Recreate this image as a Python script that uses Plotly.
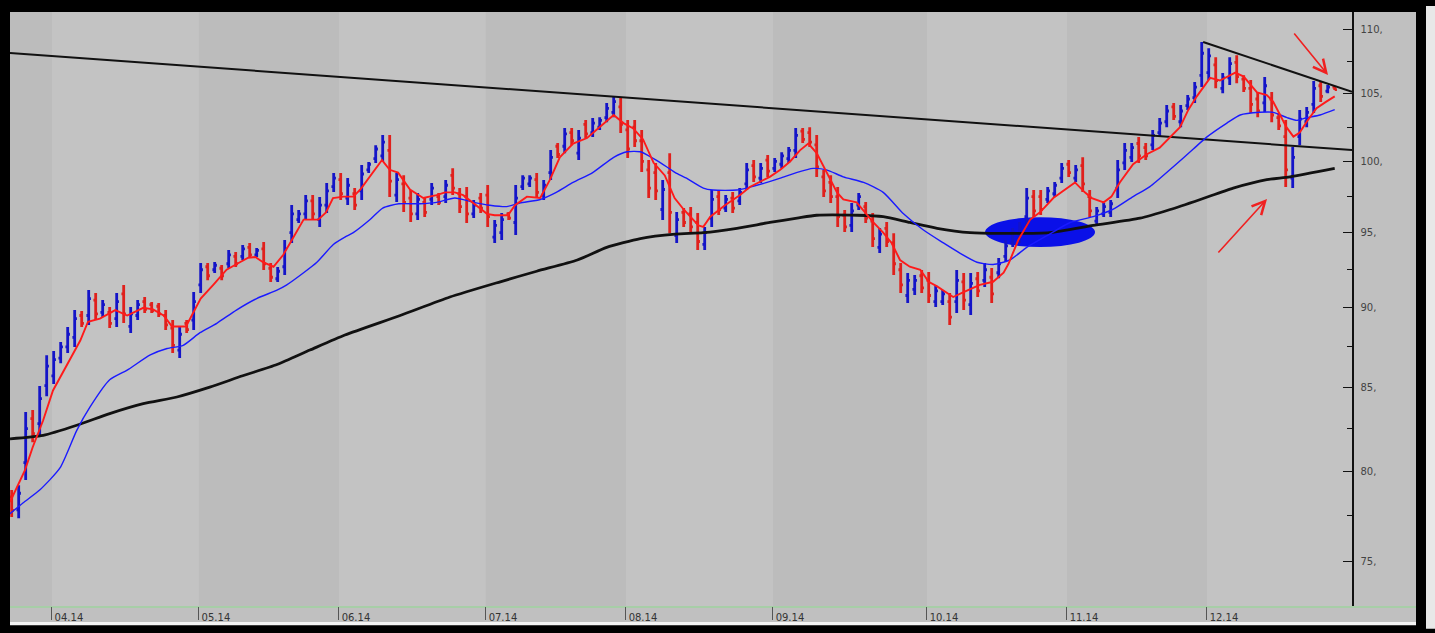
import math
import plotly.graph_objects as go

# ---------------- data ----------------
bar_high = [78.93, 79.21, 83.49, 83.61, 85.07, 86.98, 87.24, 87.81, 88.76, 89.85,
            89.79, 91.16, 90.96, 90.50, 90.05, 90.96, 91.49, 90.05, 90.50, 90.70,
            90.37, 90.31, 89.85, 89.21, 88.76, 89.21, 91.03, 92.95, 92.95, 93.01,
            92.81, 93.82, 93.69, 94.16, 94.30, 93.96, 94.36, 92.95, 92.68, 94.50,
            96.91, 96.56, 97.61, 97.61, 97.47, 98.46, 99.17, 99.17, 98.81, 98.10,
            99.74, 99.96, 101.18, 101.92, 101.92, 99.17, 99.02, 97.96, 97.75, 97.47,
            98.46, 97.75, 98.67, 99.52, 98.10, 98.17, 97.26, 97.75, 98.31, 95.87,
            96.35, 96.42, 98.31, 99.02, 99.02, 99.17, 98.67, 100.82, 101.33, 102.43,
            102.43, 102.29, 103.02, 103.17, 103.24, 104.30, 104.75, 104.67, 103.02, 103.02,
            102.29, 100.10, 99.88, 98.67, 100.60, 96.42, 96.70, 96.77, 96.35, 95.39,
            97.96, 97.96, 97.61, 97.82, 98.10, 99.88, 100.10, 99.88, 100.46, 100.24,
            100.67, 101.04, 102.43, 102.43, 102.50, 101.92, 99.38, 99.02, 98.17, 96.56,
            97.05, 97.75, 97.12, 96.35, 95.32, 95.73, 94.97, 92.95, 92.28, 92.15,
            92.48, 92.35, 91.49, 91.16, 90.96, 92.48, 92.28, 92.28, 92.35, 92.95,
            92.61, 93.28, 94.50, 95.32, 95.73, 98.10, 97.96, 97.96, 98.17, 98.53,
            99.88, 100.10, 99.74, 100.31, 97.96, 96.77, 97.05, 97.26, 100.10, 101.33,
            101.33, 101.77, 101.33, 102.29, 103.17, 104.15, 104.30, 104.15, 104.90, 105.88,
            108.98, 108.50, 107.80, 106.57, 107.80, 107.95, 106.41, 106.03, 105.12, 106.26,
            105.12, 103.55, 103.02, 101.04, 103.77, 103.99, 105.96, 105.96, 105.65, 105.57]
bar_low = [77.41, 77.35, 79.50, 81.70, 82.05, 84.45, 85.19, 86.48, 87.11, 87.49,
           88.76, 88.89, 89.21, 89.40, 88.70, 88.76, 89.02, 88.38, 89.21, 89.66,
           89.66, 89.40, 88.57, 87.11, 86.80, 88.38, 88.57, 90.96, 91.81, 92.28,
           91.81, 92.61, 92.68, 93.15, 93.28, 93.35, 92.48, 91.68, 91.68, 92.15,
           94.30, 95.66, 95.87, 95.87, 95.39, 96.35, 97.82, 97.26, 96.91, 96.56,
           97.26, 99.17, 99.88, 99.96, 97.47, 97.12, 96.42, 95.73, 95.87, 96.08,
           96.91, 96.91, 97.05, 97.61, 96.35, 95.66, 96.01, 96.35, 95.39, 94.30,
           94.50, 95.87, 94.84, 97.96, 98.17, 97.40, 97.26, 98.67, 100.24, 100.60,
           101.18, 100.10, 101.70, 101.77, 102.29, 102.87, 103.24, 102.07, 100.24, 101.04,
           99.24, 97.40, 97.26, 95.87, 94.97, 94.30, 95.39, 94.97, 93.82, 93.82,
           95.39, 96.21, 96.42, 96.35, 96.91, 97.96, 98.53, 98.46, 98.88, 99.24,
           99.52, 99.88, 100.24, 101.33, 101.04, 98.88, 97.47, 97.05, 95.39, 95.04,
           95.04, 96.56, 95.66, 94.02, 93.62, 94.02, 92.15, 90.96, 90.31, 90.83,
           90.96, 90.31, 90.05, 90.18, 88.89, 89.66, 89.85, 89.53, 90.70, 91.36,
           90.31, 91.94, 93.01, 94.02, 94.30, 95.39, 96.08, 96.21, 97.05, 97.47,
           98.46, 98.88, 98.53, 97.82, 96.08, 95.53, 96.08, 96.08, 97.40, 99.38,
           99.96, 99.88, 100.10, 100.82, 101.77, 102.50, 103.02, 102.50, 103.77, 104.30,
           105.50, 106.03, 105.42, 105.04, 105.65, 105.80, 105.12, 103.55, 103.24, 103.62,
           102.87, 102.29, 98.17, 98.10, 101.18, 102.50, 103.55, 104.37, 105.04, 105.27]
bar_open = [78.55, 77.82, 80.5, 83.1, 82.8, 85.1, 85.7, 86.8, 87.5, 88.1,
            89.5, 89.5, 90.5, 89.7, 89.7, 89.3, 90.9, 88.8, 89.5, 90.4,
            90.2, 90.1, 89.5, 88.7, 87.3, 89.0, 89.2, 91.5, 92.7, 92.5,
            92.6, 92.9, 93.4, 93.4, 94.0, 93.5, 93.9, 92.6, 91.9, 92.7,
            95.0, 95.9, 96.3, 97.2, 95.9, 96.9, 98.2, 98.7, 97.4, 97.7,
            97.9, 99.4, 100.2, 100.4, 100.8, 97.6, 98.4, 97.4, 96.3, 97.1,
            97.3, 97.5, 97.5, 99.0, 97.7, 97.5, 96.3, 97.4, 97.6, 94.7,
            95.0, 96.3, 95.7, 98.2, 98.4, 98.7, 97.6, 99.2, 101.1, 101.1,
            102.1, 100.6, 102.7, 102.1, 102.5, 103.2, 103.6, 104.0, 102.3, 102.5,
            101.5, 99.4, 99.2, 96.6, 99.2, 94.8, 96.4, 96.3, 95.7, 94.2,
            96.0, 97.5, 96.7, 97.4, 97.2, 98.4, 99.7, 98.8, 100.1, 99.5,
            99.8, 100.2, 100.8, 102.2, 102.1, 101.2, 98.9, 98.5, 97.5, 96.2,
            95.5, 96.9, 96.8, 95.8, 94.0, 95.3, 94.3, 92.5, 90.8, 91.2,
            92.1, 91.8, 90.4, 90.4, 90.4, 90.4, 91.7, 90.2, 91.9, 91.8,
            92.0, 92.3, 93.4, 94.3, 94.6, 96.1, 97.5, 97.5, 97.3, 97.7,
            98.8, 99.8, 98.8, 99.7, 97.5, 95.8, 96.3, 96.4, 98.1, 99.9,
            100.3, 101.3, 101.0, 101.2, 102.1, 102.9, 104.0, 102.9, 104.1, 104.7,
            106.4, 106.6, 107.2, 105.4, 106.2, 107.4, 106.1, 105.4, 104.6, 104.3,
            104.6, 103.2, 101.8, 98.8, 101.8, 102.9, 104.2, 105.6, 105.2, 105.5]
bar_close = [77.79, 78.75, 82.5, 82.2, 84.3, 86.3, 86.7, 87.5, 88.3, 89.3,
             89.0, 90.6, 89.6, 90.2, 89.0, 90.4, 89.6, 89.6, 90.2, 89.9,
             89.8, 89.6, 88.9, 87.6, 88.3, 88.6, 90.4, 92.5, 92.1, 92.8,
             92.1, 93.5, 92.9, 93.9, 93.5, 93.8, 92.9, 92.0, 92.4, 93.9,
             96.3, 96.3, 97.2, 96.3, 96.9, 97.9, 98.8, 97.7, 98.3, 96.9,
             99.1, 99.8, 100.9, 101.4, 98.6, 98.7, 97.1, 96.3, 97.3, 96.4,
             98.1, 97.1, 98.3, 98.1, 96.8, 96.3, 96.9, 96.7, 96.1, 95.5,
             95.9, 96.0, 97.4, 98.8, 98.8, 97.8, 98.3, 100.3, 100.5, 102.0,
             101.5, 101.7, 102.0, 102.8, 103.0, 103.9, 104.4, 102.7, 100.9, 101.5,
             100.0, 98.1, 97.9, 98.0, 96.4, 95.9, 95.7, 95.4, 94.4, 95.0,
             97.3, 96.6, 97.3, 96.7, 97.8, 99.4, 98.9, 99.5, 99.3, 100.0,
             100.4, 100.8, 101.9, 101.6, 101.4, 99.6, 97.9, 97.5, 96.1, 95.4,
             96.5, 97.5, 96.0, 94.6, 94.9, 94.4, 92.9, 91.5, 91.8, 91.8,
             91.3, 90.8, 91.1, 90.9, 89.4, 91.8, 90.5, 91.6, 91.1, 92.5,
             90.9, 92.9, 94.1, 95.0, 95.4, 97.4, 96.5, 96.6, 97.9, 98.3,
             99.5, 99.2, 99.4, 98.4, 96.5, 96.5, 96.8, 97.0, 99.4, 100.8,
             101.0, 100.4, 100.4, 101.9, 102.8, 103.7, 103.3, 103.7, 104.6, 105.5,
             108.1, 107.9, 106.0, 106.2, 107.3, 106.3, 105.4, 104.2, 103.7, 105.6,
             103.4, 102.6, 99.4, 100.3, 103.1, 103.6, 105.4, 104.8, 105.5, 105.3]
bar_index = list(range(len(bar_close)))

fast_ma_x = [-0.24, 1.9, 3.0, 4.5, 5.9, 7.9, 9.8, 10.9, 12.6, 14.8, 16.5, 18.8, 20.2, 21.7,
             22.9, 24.9, 25.9, 27, 28.8, 30.7, 32.6, 33.8, 34.8, 35.9, 37.4, 38.8, 39.9, 41.7,
             43.8, 44.9, 45.9, 47.4, 48.8, 49.8, 52.9, 54, 55.2, 56.9, 58.8, 60.7, 61.9, 63.3,
             64.5, 66, 67.9, 69, 70.9, 71.9, 73.6, 75.5, 76.9, 78.3, 80.2, 82.2, 84, 86, 87.4,
             88.8, 90.2, 91.7, 93.3, 94.7, 96, 98.1, 98.8, 99.8, 101.9, 104, 105.5, 108.3,
             109.8, 111.2, 112.6, 113.8, 115, 116.4, 117.9, 118.8, 120.7, 121.9, 123.1, 124.5,
             125.7, 126.9, 128.3, 129.8, 131, 132.2, 133.6, 134.5, 135.9, 138.3, 140.2, 141.7,
             142.4, 143.8, 145.5, 146.9, 148.8, 150.7, 151.9, 153.3, 154.3, 156, 157.1, 158.3,
             160.2, 162.1, 164.0, 166.9, 168.1, 169.3, 170.2, 171.2, 172.6, 174, 174.8, 176,
             176.9, 177.9, 179.3, 180.2, 181.2, 182.1, 183.1, 184, 185, 186.4, 187.8, 189]
fast_ma_y = [78.25, 80.07, 81.4, 83.0, 84.8, 86.4, 87.9, 89.1, 89.3, 89.85, 89.5, 90.0, 89.9, 89.5,
             88.8, 88.8, 89.7, 90.6, 91.5, 92.5, 93.0, 93.3, 93.35, 93.0, 92.7, 93.5, 94.4, 95.9,
             95.9, 96.4, 97.4, 97.5, 97.5, 98.0, 100.1, 99.4, 99.2, 98.0, 97.4, 97.6, 97.8, 97.8,
             97.6, 97.0, 96.3, 96.2, 96.2, 96.9, 97.5, 97.4, 98.7, 100.3, 101.3, 101.7, 102.5, 103.4, 102.8,
             102.4, 101.6, 99.9, 99.0, 97.4, 96.6, 95.5, 95.4, 96.1, 96.9, 97.6, 98.2, 98.9,
             99.4, 100.0, 100.8, 101.3, 100.6, 99.2, 97.8, 97.3, 97.1, 96.4, 95.7, 95.0,
             94.3, 93.15, 92.7, 92.5, 91.7, 91.4, 91.0, 90.7, 91.0, 91.5, 91.7, 92.3,
             92.9, 94.5, 95.9, 96.4, 97.4, 98.1, 98.5, 97.8, 97.4, 97.1, 97.5, 98.5,
             99.8, 100.5, 101.0, 102.5, 103.8, 104.8, 105.5, 106.2, 106.0, 106.4, 106.6, 106.3,
             105.7, 105.1, 104.9, 104.4, 103.4, 102.5, 101.8, 102.1, 102.9, 103.9, 104.4, 104.8]

mid_ma_x = [-0.24, 1.6, 4.0, 6.9, 9.3, 11.2, 14.0, 16.5, 19.8, 22.2, 24.5, 26.9, 29.3, 32.1, 35,
            37.9, 39.3, 41.7, 43.6, 45.95, 47.6, 48.8, 51.2, 53, 55.3, 58.3, 60.7, 63.3, 66, 68.3,
            70.7, 72.6, 75.5, 77.8, 80.2, 83, 86, 87.9, 89.8, 91.7, 93.6, 94.8, 96.4, 98.8, 100.2,
            103.6, 105, 107.9, 109.8, 112.1, 114.5, 116.4, 118.8, 121.7, 124.5, 127.4, 130.2,
            133.1, 135.5, 137.9, 140.2, 142.6, 145, 147.9, 151.2, 154.5, 157.3, 160.2, 162.6,
            165.9, 168.8, 170.8, 173.6, 175.5, 178.3, 180.2, 182.2, 183.6, 185, 186.9, 189]
mid_ma_y = [77.6, 78.2, 78.93, 80.2, 82.4, 83.8, 85.45, 86.05, 87.0, 87.4, 87.6, 88.4, 89.0, 89.85, 90.6,
            91.15, 91.5, 92.3, 93.0, 94.2, 94.7, 95.0, 95.9, 96.7, 97.0, 97.0, 97.1, 97.4, 97.1, 96.9,
            96.8, 97.05, 97.3, 97.8, 98.5, 99.2, 100.3, 100.7, 100.7, 100.2, 99.6, 99.2, 98.8, 98.1, 97.96,
            97.96, 98.1, 98.5, 98.8, 99.2, 99.5, 99.4, 98.9, 98.5, 97.8, 96.3, 95.2,
            94.3, 93.6, 93.0, 92.85, 93.15, 94.0, 94.8, 95.7, 96.1, 96.6, 97.5, 98.2,
            99.6, 100.9, 101.8, 102.8, 103.4, 103.6, 103.6, 103.2, 103.0, 103.2, 103.4, 103.8]

slow_ma_x = [-0.24, 4.5, 9.3, 14, 18.8, 23.6, 28.3, 33, 37.9, 42.6, 47.6, 55.5, 62.6, 69.8, 75,
             80.8, 85, 89.8, 94.8, 98.8, 103.6, 108.3, 112.2, 115, 120.8, 124.5, 128.3, 132.2,
             136.9, 141.2, 148.3, 154.5, 161.2, 165.5, 169.8, 174.5, 179.3, 182.6, 189]
slow_ma_y = [81.9, 82.1, 82.7, 83.4, 84.0, 84.4, 85.0, 85.7, 86.4, 87.3, 88.25, 89.5, 90.7, 91.7, 92.4,
             93.15, 94.0, 94.6, 94.9, 95.0, 95.3, 95.7, 96.0, 96.2, 96.2, 96.1, 95.7, 95.3,
             95.0, 94.95, 95.0, 95.5, 96.0, 96.6, 97.3, 98.1, 98.7, 98.9, 99.5]

trend_long_x = [-0.24, 191.47]
trend_long_y = [108.12, 100.82]
trend_top_x = [170.2, 191.47]
trend_top_y = [108.98, 105.15]

month_labels = ["04.14", "05.14", "06.14", "07.14", "08.14", "09.14", "10.14", "11.14", "12.14"]
month_first_bar = [6, 27, 47, 68, 88, 109, 131, 151, 171]

y_tick_values = [75, 80, 85, 90, 95, 100, 105, 110]
y_tick_text = ["75,", "80,", "85,", "90,", "95,", "100,", "105,", "110,"]
y_minor_values = [77.5, 82.5, 87.5, 92.5, 97.5, 102.5, 107.5]

# ---------------- figure ----------------
X_RANGE = [-0.24, 191.47]
Y_RANGE = [math.log10(72.61), math.log10(111.36)]
FONT = "DejaVu Sans"

fig = go.Figure()

fig.add_trace(go.Scatter(x=slow_ma_x, y=slow_ma_y, mode="lines",
                         line=dict(color="#111111", width=2.8, shape="spline", smoothing=0.6),
                         hoverinfo="skip"))
fig.add_trace(go.Scatter(x=trend_long_x, y=trend_long_y, mode="lines",
                         line=dict(color="#111111", width=2), hoverinfo="skip"))
fig.add_trace(go.Scatter(x=trend_top_x, y=trend_top_y, mode="lines",
                         line=dict(color="#111111", width=2), hoverinfo="skip"))
fig.add_trace(go.Ohlc(x=bar_index, open=bar_open, high=bar_high, low=bar_low, close=bar_close,
                      increasing=dict(line=dict(color="#1414c8", width=2.8)),
                      decreasing=dict(line=dict(color="#e0201c", width=2.8)),
                      tickwidth=0.32, hoverinfo="skip"))
fig.add_trace(go.Scatter(x=mid_ma_x, y=mid_ma_y, mode="lines",
                         line=dict(color="#1a1aff", width=1.4, shape="spline", smoothing=0.6),
                         hoverinfo="skip"))
fig.add_trace(go.Scatter(x=fast_ma_x, y=fast_ma_y, mode="lines",
                         line=dict(color="#ff1a1a", width=1.9), hoverinfo="skip"))

shapes = []
# month shading bands
bounds = [X_RANGE[0]] + [b - 0.25 for b in month_first_bar] + [X_RANGE[1]]
for k in range(len(bounds) - 1):
    shapes.append(dict(type="rect", xref="x", yref="paper", x0=bounds[k], x1=bounds[k + 1],
                       y0=0, y1=1, fillcolor="#bcbcbc" if k % 2 == 0 else "#c3c3c3",
                       line=dict(width=0), layer="below"))

# frame pieces (paper coords relative to plot area 10..1352 x 12..610 px)
W, H = 1342.0, 598.0
def px(x):
    return (x - 10) / W
def py(y):
    return (610 - y) / H

shapes += [
    dict(type="rect", xref="paper", yref="paper", x0=px(1352), x1=px(1416), y0=py(626), y1=py(12),
         fillcolor="#c0c0c0", line=dict(width=0), layer="below"),
    dict(type="rect", xref="paper", yref="paper", x0=px(10), x1=px(1416), y0=py(626), y1=py(610),
         fillcolor="#c0c0c0", line=dict(width=0), layer="below"),
    dict(type="rect", xref="paper", yref="paper", x0=px(10), x1=px(1416), y0=py(629.5), y1=py(626),
         fillcolor="#f4f4f4", line=dict(width=0), layer="below"),
    dict(type="rect", xref="paper", yref="paper", x0=px(1426), x1=px(1436), y0=py(633), y1=py(6),
         fillcolor="#e8e8e8", line=dict(width=0), layer="below"),
    dict(type="line", xref="paper", yref="paper", x0=px(10), x1=px(1416), y0=py(611), y1=py(611),
         line=dict(color="#9fd39f", width=1.5), layer="below"),
    # blue ellipse highlight
    dict(type="circle", xref="x", yref="y", x0=139.05, x1=154.76, y0=94.02, y1=96.07,
         fillcolor="#0a10e8", line=dict(width=0), layer="below"),
]

annotations = [
    dict(x=188.04, y=math.log10(106.42), xref="x", yref="y", text="", showarrow=True,
         ax=-35, ay=-43, arrowcolor="#f02020", arrowwidth=1.6, arrowhead=5, arrowsize=1.6),
    dict(x=179.33, y=math.log10(97.33), xref="x", yref="y", text="", showarrow=True,
         ax=-50, ay=55, arrowcolor="#f02020", arrowwidth=1.6, arrowhead=5, arrowsize=1.6),
]

fig.update_layout(
    width=1435, height=633,
    margin=dict(l=10, r=83, t=12, b=23, pad=0),
    paper_bgcolor="#000000", plot_bgcolor="#c0c0c0",
    showlegend=False, shapes=shapes, annotations=annotations,
    font=dict(family=FONT, size=10, color="#333333"),
    xaxis=dict(range=X_RANGE, rangeslider=dict(visible=False), showgrid=False, zeroline=False,
               tickvals=[b - 0.25 for b in month_first_bar], ticktext=month_labels,
               ticks="outside", ticklen=13, tickcolor="#555555", tickwidth=1,
               ticklabelshift=17, ticklabelstandoff=-11,
               tickfont=dict(family=FONT, size=10, color="#333333"), showline=False, fixedrange=True),
    yaxis=dict(type="log", range=Y_RANGE, side="right", showgrid=False, zeroline=False,
               tickvals=y_tick_values, ticktext=y_tick_text, ticks="inside", ticklen=9,
               tickcolor="#111111", tickwidth=1, showline=True, linecolor="#111111", linewidth=1.5,
               ticklabelstandoff=5, fixedrange=True,
               tickfont=dict(family=FONT, size=10, color="#444444"),
               minor=dict(tickvals=y_minor_values, ticks="inside", ticklen=5, tickcolor="#111111",
                          showgrid=False)),
)

fig.write_html("out.html",
               config={"displayModeBar": False, "staticPlot": True},
               post_script="document.body.style.margin='0px';document.body.style.padding='0px';"
                           "document.body.style.overflow='hidden';")
